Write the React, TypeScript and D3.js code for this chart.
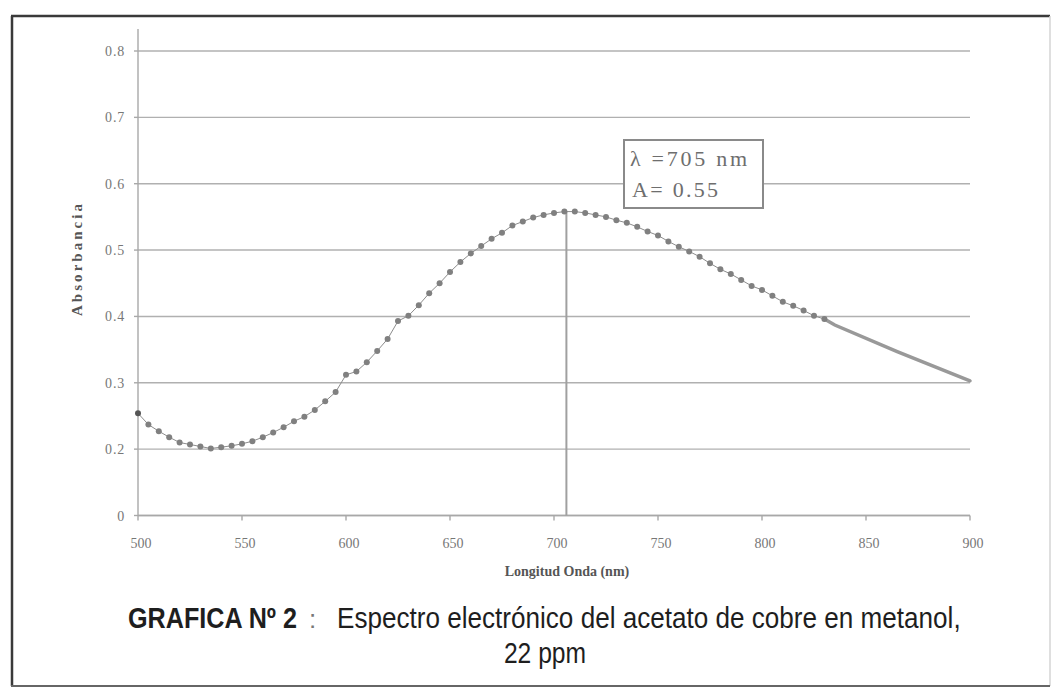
import * as d3 from 'd3';

// wavelength (nm) of each measured point drawn with a marker
const wavelengths = [
  500, 505, 510, 515, 520, 525, 530, 535, 540, 545,
  550, 555, 560, 565, 570, 575, 580, 585, 590, 595,
  600, 605, 610, 615, 620, 625, 630, 635, 640, 645,
  650, 655, 660, 665, 670, 675, 680, 685, 690, 695,
  700, 705, 710, 715, 720, 725, 730, 735, 740, 745,
  750, 755, 760, 765, 770, 775, 780, 785, 790, 795,
  800, 805, 810, 815, 820, 825, 830,
];

const absorbance = [
  0.254, 0.237, 0.227, 0.218, 0.21, 0.207, 0.204, 0.201, 0.203, 0.205,
  0.208, 0.212, 0.218, 0.225, 0.233, 0.242, 0.249, 0.259, 0.272, 0.286,
  0.312, 0.317, 0.331, 0.348, 0.366, 0.393, 0.401, 0.417, 0.435, 0.45,
  0.467, 0.482, 0.495, 0.506, 0.517, 0.526, 0.537, 0.543, 0.549, 0.553,
  0.556, 0.558, 0.558, 0.556, 0.553, 0.55, 0.545, 0.541, 0.535, 0.528,
  0.522, 0.513, 0.505, 0.498, 0.49, 0.48, 0.471, 0.464, 0.455, 0.446,
  0.44, 0.431, 0.422, 0.416, 0.409, 0.401, 0.396,
];

// end of the spectrum, drawn as a plain thick line
const tailWavelengths = [830, 835, 865, 900];
const tailAbsorbance = [0.396, 0.387, 0.347, 0.303];

const xTicks = [500, 550, 600, 650, 700, 750, 800, 850, 900];
const yTicks = [0.1, 0.2, 0.3, 0.4, 0.5, 0.6, 0.7, 0.8];
const yTickLabels = ['0', '0.2', '0.3', '0.4', '0.5', '0.6', '0.7', '0.8'];

const peakWavelength = 705;
const peakAbsorbance = 0.558;
const peakLines = ['λ =705 nm', 'A= 0.55'];

const serif = '"Liberation Serif", "Times New Roman", serif';
const sans = '"Liberation Sans", Arial, sans-serif';

export default function App() {
  const W = 1053;
  const H = 689;

  const x = d3.scaleLinear().domain([500, 900]).range([138, 970]);
  const y = d3.scaleLinear().domain([0.1, 0.8]).range([515.5, 51]);

  const points = wavelengths.map((w, i) => ({ w, a: absorbance[i] }));
  const tail = tailWavelengths.map((w, i) => ({ w, a: tailAbsorbance[i] }));

  const line = d3
    .line<{ w: number; a: number }>()
    .x((d) => x(d.w))
    .y((d) => y(d.a));

  const x0 = x(500);
  const x1 = x(900);
  const yBottom = y(0.1);

  return (
    <svg
      width={W}
      height={H}
      style={{ position: 'absolute', left: 0, top: 0, background: '#fff' }}
    >
      <rect x={0} y={0} width={W} height={H} fill="#fff" />

      {/* frame */}
      <line x1={11} y1={16} x2={1050} y2={16} stroke="#3a3a3a" strokeWidth={2.5} />
      <line x1={12} y1={16} x2={12} y2={686} stroke="#3a3a3a" strokeWidth={2.5} />
      <line x1={1050} y1={16} x2={1050} y2={686} stroke="#d4d4d4" strokeWidth={1.5} />
      <line x1={11} y1={686} x2={1050} y2={686} stroke="#666" strokeWidth={2} />

      {/* gridlines */}
      {yTicks.map((t) => (
        <line
          key={'g' + t}
          x1={x0}
          x2={x1}
          y1={y(t)}
          y2={y(t)}
          stroke="#b0b0b0"
          strokeWidth={1.4}
        />
      ))}

      {/* y axis */}
      <line x1={x0} x2={x0} y1={y(0.8) - 22} y2={yBottom} stroke="#a8a8a8" strokeWidth={1.4} />
      {yTicks.map((t, i) => (
        <g key={'y' + t}>
          <line x1={x0 - 4} x2={x0} y1={y(t)} y2={y(t)} stroke="#a8a8a8" strokeWidth={1.4} />
          <text
            x={x0 - 13}
            y={y(t) + 5}
            textAnchor="end"
            fontFamily={serif}
            fontSize={14}
            fill="#777"
            letterSpacing={0.8}
          >
            {yTickLabels[i]}
          </text>
        </g>
      ))}

      {/* x axis */}
      <line x1={x0} x2={x1} y1={yBottom} y2={yBottom} stroke="#a8a8a8" strokeWidth={1.4} />
      {xTicks.map((t) => (
        <g key={'x' + t}>
          <line x1={x(t)} x2={x(t)} y1={yBottom} y2={yBottom + 5} stroke="#a8a8a8" strokeWidth={1.4} />
          <text
            x={x(t) + 3}
            y={yBottom + 32}
            textAnchor="middle"
            fontFamily={serif}
            fontSize={14}
            fill="#777"
          >
            {t}
          </text>
        </g>
      ))}

      {/* axis titles */}
      <text
        transform={`translate(82,260) rotate(-90)`}
        textAnchor="middle"
        fontFamily={serif}
        fontWeight="bold"
        fontSize={15}
        fill="#555"
        textLength={112}
        lengthAdjust="spacing"
      >
        Absorbancia
      </text>
      <text
        x={567}
        y={576}
        textAnchor="middle"
        fontFamily={serif}
        fontWeight="bold"
        fontSize={14}
        fill="#555"
      >
        Longitud Onda (nm)
      </text>

      {/* peak marker line */}
      <line
        x1={x(peakWavelength) + 2}
        x2={x(peakWavelength) + 2}
        y1={y(peakAbsorbance)}
        y2={yBottom}
        stroke="#a0a0a0"
        strokeWidth={2}
      />

      {/* spectrum */}
      <path d={line(points) ?? ''} fill="none" stroke="#8c8c8c" strokeWidth={1} />
      <path d={line(tail) ?? ''} fill="none" stroke="#999" strokeWidth={3.5} strokeLinecap="round" />
      {points.map((d, i) => (
        <circle
          key={'p' + d.w}
          cx={x(d.w)}
          cy={y(d.a)}
          r={3}
          fill={i === 0 ? '#555' : '#808080'}
        />
      ))}

      {/* annotation */}
      <rect x={624} y={140} width={139} height={68} fill="#fff" stroke="#8a8a8a" strokeWidth={2} />
      <text x={630} y={166} fontFamily={serif} fontSize={22} fill="#6e6e6e" textLength={117} lengthAdjust="spacing">
        {peakLines[0]}
      </text>
      <text x={632} y={197} fontFamily={serif} fontSize={22} fill="#6e6e6e" textLength={86} lengthAdjust="spacing">
        {peakLines[1]}
      </text>

      {/* caption, horizontally condensed like Arial Narrow */}
      <text
        transform="translate(128,628) scale(0.868,1)"
        fontFamily={sans}
        fontWeight="bold"
        fontSize={29}
        fill="#1e1e1e"
      >
        GRAFICA Nº 2
      </text>
      <text x={309} y={628} fontFamily={sans} fontSize={26} fill="#777">
        :
      </text>
      <text
        transform="translate(337,628) scale(0.9,1)"
        fontFamily={sans}
        fontSize={29}
        fill="#1e1e1e"
      >
        Espectro electrónico del acetato de cobre en metanol,
      </text>
      <text
        transform="translate(545,663) scale(0.85,1)"
        textAnchor="middle"
        fontFamily={sans}
        fontSize={29}
        fill="#1e1e1e"
      >
        22 ppm
      </text>
    </svg>
  );
}
